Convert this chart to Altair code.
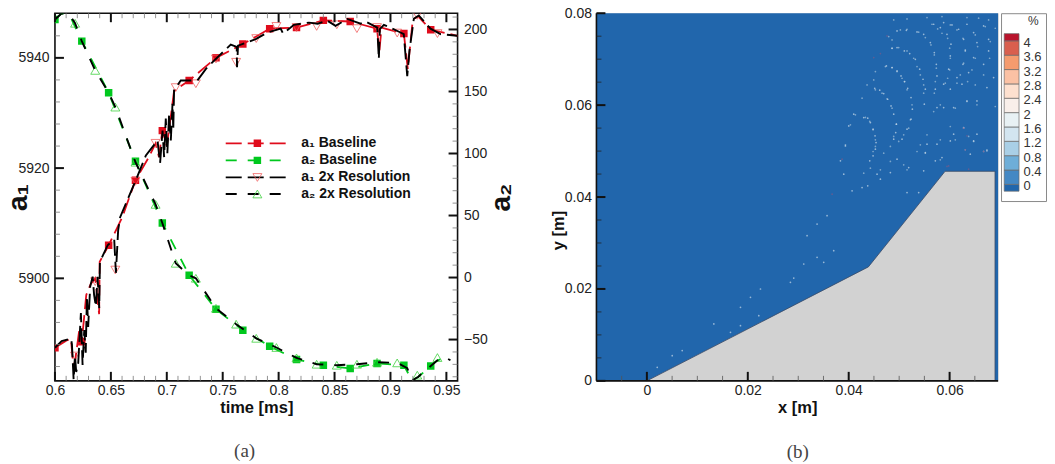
import altair as alt
import pandas as pd

FONT = "Liberation Sans"
RED, GREEN = "#e00c1c", "#00c81e"

# --- panel (a): readings in data units
t_a1_base = [.6,.61,.6143,.6165,.618,.622,.624,.628,.632,.636,.6395,.64,.648,.66,.672,.684,.69,.693,.696,.7,.704,.7065,.72,.744,.768,.792,.816,.84,.864,.888,.89,.892,.912,.9155,.92,.925,.936,.96]
v_a1_base = [5887.4,5888.7,5889,5884,5885,5891,5888.5,5897,5899,5900,5893.5,5903,5906,5911,5917.8,5922,5924.5,5922,5926.8,5924,5930,5934,5935.9,5940,5942.5,5945.3,5945.5,5946.8,5946.6,5945.3,5941,5945.5,5944.4,5938,5947,5947.5,5945.1,5944]
t_a1_fine = [.6,.606,.6143,.6152,.6167,.6179,.619,.6208,.6232,.6247,.6262,.6275,.6286,.6297,.6315,.6337,.635,.6366,.6381,.6396,.6402,.6471,.653,.6545,.6565,.6583,.6723,.6813,.6917,.694,.6962,.6976,.6991,.7005,.7021,.7036,.7051,.7058,.7065,.7125,.7274,.735,.7423,.7572,.7625,.7628,.7637,.7795,.79,.8018,.804,.8137,.8271,.835,.8435,.8509,.8614,.8733,.8777,.8882,.8896,.8905,.8941,.909,.9119,.915,.917,.9209,.9253,.9358,.9447,.9596]
v_a1_fine = [5887.4,5888.6,5889.1,5888,5881.6,5886,5883,5884.6,5893.7,5884.3,5890.6,5886.5,5896.7,5891.2,5898.5,5900.3,5897,5894.9,5900.3,5894.6,5903,5906,5907,5901,5908.7,5911.1,5917.8,5922.3,5925,5920.9,5926.8,5922,5929,5922.7,5929.9,5925,5931.7,5927,5934.1,5935.9,5935.9,5938,5939.5,5942.4,5942,5938.3,5942.2,5943.4,5944.6,5945.3,5944.4,5946,5946.4,5946.2,5946.75,5945.8,5947.06,5946.2,5946.6,5945.5,5939.8,5945.2,5946,5944.6,5944.3,5936.7,5941.3,5947.1,5947.7,5945.3,5944.3,5944]

t_a2_base = [.6,.606,.613,.624,.648,.672,.696,.72,.744,.768,.792,.816,.84,.864,.888,.912,.9193,.925,.936,.9417,.949,.9536]
v_a2_base = [208,213,212,190.6,149,93.7,44,1.8,-25.6,-42.5,-55.4,-66,-70.7,-73.3,-69.3,-70.7,-83,-80,-71.3,-67,-64.3,-66.7]
t_a2_fine = [.6,.606,.613,.618,.624,.636,.648,.654,.672,.69,.696,.708,.72,.726,.744,.762,.78,.798,.816,.834,.852,.87,.888,.906,.915,.9193,.925,.9295,.936,.9417,.949,.9536]
v_a2_fine = [208,213,212,205,190.6,167,149,137.4,93,59,44,11.5,1.8,-0.6,-24.8,-37.6,-49,-56.4,-64.8,-69.9,-70.7,-69.9,-68.3,-68.8,-73,-83,-80,-76,-71.3,-67,-64.3,-66.7]

t_squares = [.6,.624,.648,.672,.696,.72,.744,.768,.792,.816,.84,.864,.888,.912,.936]
a1_squares = [5887.4,5888.5,5906,5917.8,5926.8,5935.9,5940,5942.5,5945.3,5945.5,5946.8,5946.6,5945.3,5944.4,5945.1]
a2_squares = [208,190.6,149,93.7,44,1.8,-25.6,-42.5,-55.4,-66,-70.7,-73.3,-69.3,-70.7,-71.3]
t_tris = [.618,.636,.654,.672,.69,.708,.726,.744,.762,.78,.798,.816,.834,.852,.87,.888,.906,.924,.942]
a1_tris = [5885.9,5899.4,5901.5,5917.6,5924.5,5934.6,5935.3,5939.8,5939.2,5943.5,5945.7,5945.5,5945.7,5946,5945.3,5945.5,5944.5,5947.7,5944.4]
a2_tris = [205,167,137.4,93,59,11.5,-0.6,-24.8,-37.6,-49,-56.4,-64.8,-69.9,-70.7,-69.9,-68.3,-68.8,-78.7,-64.5]

x_a = [.6,.96]
y_a1 = [5881.4,5948.1]
y_a2 = [-83.3,213.1]
x_major_a = [.6,.65,.7,.75,.8,.85,.9,.95]
x_minor_a = [.61,.62,.63,.64,.66,.67,.68,.69,.71,.72,.73,.74,.76,.77,.78,.79,.81,.82,.83,.84,.86,.87,.88,.89,.91,.92,.93,.94]
a1_major = [5900,5920,5940]
a1_minor = [5884,5888,5892,5896,5904,5908,5912,5916,5924,5928,5932,5936,5944]
a2_major = [-50,0,50,100,150,200]
a2_minor = [-80,-70,-60,-40,-30,-20,-10,10,20,30,40,60,70,80,90,110,120,130,140,160,170,180,190,210]

legend_labels = ["a₁ Baseline","a₂ Baseline","a₁ 2x Resolution","a₂ 2x Resolution"]
legend_y = [5924.5,5921.4,5918.3,5915.3]
legend_x = [.7527,.8072]
legend_mark_x = .781
legend_text_x = .8203

# --- panel (b)
x_b = [-0.01,0.0696]
y_b = [0,0.08]
body_x = [0,.0439,.0591,.069,.069]
body_y = [0,.0248,.0456,.0456,0]
x_major_b = [0,.02,.04,.06]
x_minor_b = [-.005,.005,.01,.015,.025,.03,.035,.045,.05,.055,.065]
y_major_b = [0,.02,.04,.06,.08]
y_minor_b = [.005,.01,.015,.025,.03,.035,.045,.05,.055,.065,.07,.075]
speck_x = [.04298,.04377,.04430,.04483,.04522,.04542,.04529,.04483,.04417,
 .04516,.04615,.04694,.04773,.04839,.04892,.04945,.04932,.04892,
 .04747,.04859,.04958,.05037,.05110,.05169,.05235,.05262,.05235,.05156,.05057,
 .04859,.04958,.05103,.05209,.05321,.05407,.05473,.05519,.05499,
 .04958,.05143,.05354,.05486,.05618,.05697,.05737,.05750,.05717,
 .05684,.05816,.05948,.06027,.06014,.05981,.05882,
 .05882,.06047,.06179,.06278,.06311,.06265,.06146,.06014,
 .06344,.06476,.06542,.06476,.06377,.06245,
 .06674,.06773,.06773,.06674,.06872,
 .04100,.04001,.03935,.03902,.03836,.04067,.04265,.04377,.04562,.04826,.04628,.04958,.05189,.05156,.05387,.05486,.05519,.05717,.05849,.05552,.05882,.05750,.06080,.06344,.06542,.06740,.06542,.06278,.06080,.06476,.06410,.06740,.06014,.05750,
 .02845,.02911,.03109,.03373,.03505,.03703,.03571,.03373,.03175,.02251,.02053,.01855,.02218,.01855,.01327,.01657,.00700,.00502,.00205]
speck_y = [.05729,.05715,.05621,.05476,.05331,.05186,.05041,.04896,.04787,
 .06367,.06324,.06252,.06128,.05983,.05802,.05585,.05403,.05258,
 .06853,.06817,.06745,.06636,.06512,.06367,.06165,.05911,.05693,.05476,.05258,
 .07237,.07252,.07180,.07122,.06998,.06781,.06563,.06346,.06020,
 .07614,.07629,.07593,.07542,.07361,.07143,.06889,.06636,.06346,
 .07760,.07687,.07542,.07325,.07071,.06781,.06455,
 .07796,.07745,.07651,.07433,.07180,.06889,.06600,.06346,
 .07760,.07578,.07361,.07035,.06708,.06455,
 .07723,.07433,.07180,.06889,.06600,
 .05802,.05548,.05113,.04497,.04787,.04135,.04207,.04243,.04497,.04533,.04388,.04823,.04642,.04098,.04098,.04570,.04968,.04787,.04860,.05150,.05947,.05947,.05947,.06092,.06092,.06382,.05367,.05512,.05367,.05222,.04932,.05005,.05222,.05150,
 .02144,.02238,.02543,.02688,.02579,.02833,.03594,.03413,.03159,.01999,.01818,.01600,.01419,.01201,.01238,.01056,.00658,.00549,.00295]
faint_x = [.05651,.05763,.05849,.05961,.06001,.06014,.06001,.05961,.05915,.06014,.06146,.06265,.06311,.06278,.06212,.06146,.06344,.06509,.06555,.06509,.06443,.06357,
 .05024,.05156,.05387,.05519,.05631,.05697,.05737,.05717,.05697,.04859,.04991,.05156,.05288,.05354,.05420,.05486,.05486,.04727,.04859,.04958,.05057,.05103,.05156,
 .06707,.06806,.06793,.06674,.06509,.06575,.06773,.06905,.04529,.04496,.04364,.04529,.04661,.04892,.05156,.05552,.05849,.04793,.04859,
 .04331,.04417,.04483,.04529,.04529,.04483,.04760,.04859,.04945,.04892,.04826,.05090,.04991,.05189,.05255,.05222,.05354,.05519,.05420,.05684,.05816,.06113,.06344,.06542,.06905,.05816,.06014,.06278,.06377,.06476,.06113,.04298,.04430,.04628,.04826,.05090,.05156,.04694,.04034,.04133,.03935,.04265,.05816,.05552,.06674,.06740,.06311]
faint_y = [.07760,.07659,.07564,.07455,.07238,.07020,.06767,.06585,.06477,.07746,.07637,.07455,.07202,.06912,.06658,.06477,.07905,.07528,.07274,.07020,.06767,.06513,
 .07637,.07651,.07586,.07470,.07310,.07093,.06803,.06513,.06259,.07238,.07253,.07180,.07020,.06839,.06658,.06440,.06259,.06839,.06818,.06731,.06585,.06513,.06332,
 .07709,.07383,.07020,.06658,.06440,.07891,.07854,.07673,.06731,.06549,.06440,.06332,.06259,.07854,.07876,.07905,.07927,.07492,.07419,
 .05731,.05644,.05463,.05245,.05100,.04991,.06137,.05934,.05586,.05318,.05100,.05354,.05209,.05499,.06007,.05680,.04991,.04955,.05136,.05861,.06007,.05934,.06079,.06007,.05970,.05245,.05535,.05499,.05318,.05209,.05245,.04520,.04629,.04593,.04774,.04702,.04593,.04955,.05572,.05789,.05137,.06152,.04810,.05354,.04992,.05028,.05028]
dark_x = [.04628,.04496,.04760,.03869,.03671,.06377,.05981,.06344,.06278,.06311,.06674,.05948]
dark_y = [.07121,.07034,.07506,.04823,.04062,.04606,.04678,.05331,.05499,.05028,.04992,.04665]

# --- colour key
levels = [0,.4,.8,1.2,1.6,2,2.4,2.8,3.2,3.6,4]
level_low = [-.19,0,.4,.8,1.2,1.6,2,2.4,2.8,3.2,3.6,4]
level_top = [0,.4,.8,1.2,1.6,2,2.4,2.8,3.2,3.6,4,4.2]
level_colors = ["#2166ac","#4488c4","#6eaed8","#a9cfe6","#d3e5f0","#e8f1f4","#f9efea","#fde0cf","#fbc1a4","#f59b6e","#d95f4e","#b9142c"]
level_text = ["0","0.4","0.8","1.2","1.6","2","2.4","2.8","3.2","3.6","4"]


def sc(dom):
    return alt.Scale(domain=dom, nice=False, zero=False)

def X(dom, field="x"):
    return alt.X(field, type="quantitative", scale=sc(dom), axis=None, title=None)

def Y(dom, field="y"):
    return alt.Y(field, type="quantitative", scale=sc(dom), axis=None, title=None)

def line(ts, vs, ydom, color, dash, w):
    df = pd.DataFrame({"x": ts, "y": vs})
    return alt.Chart(df).mark_line(color=color, strokeDash=dash, strokeWidth=w, clip=True, interpolate="linear").encode(
        x=alt.X("x:Q", sort=None, scale=sc(x_a), axis=None),
        y=Y(ydom))

def pts(ts, vs, ydom, xdom, shape, size, fill, stroke, w=0.8):
    df = pd.DataFrame({"x": ts, "y": vs})
    kw = dict(shape=shape, size=size, clip=True)
    if fill: kw.update(filled=True, fill=fill, stroke=fill, strokeWidth=0, opacity=1)
    else: kw.update(filled=False, fill="transparent", stroke=stroke, strokeWidth=w, opacity=1)
    return alt.Chart(df).mark_point(**kw).encode(x=X(xdom), y=Y(ydom))

def xticks(vals, xdom, H, size, w, color, both=True):
    df = pd.DataFrame({"x": vals})
    bot = alt.Chart(df).mark_rule(color=color, strokeWidth=w).encode(x=X(xdom), y=alt.value(H), y2=alt.value(H-size))
    if not both: return [bot]
    top = alt.Chart(df).mark_rule(color=color, strokeWidth=w).encode(x=X(xdom), y=alt.value(0), y2=alt.value(size))
    return [bot, top]

def yticks(vals, ydom, x0, x1, w, color):
    df = pd.DataFrame({"y": vals})
    return alt.Chart(df).mark_rule(color=color, strokeWidth=w).encode(y=Y(ydom), x=alt.value(x0), x2=alt.value(x1))

WA, HA = 403, 368
lab = dict(labelFont=FONT, labelFontSize=14, labelColor="#222", ticks=False, domain=False, grid=False,
           titleFont=FONT, titleFontWeight="bold", titleColor="#111")

ax_time = alt.Axis(values=x_major_a, format="~g", title="time [ms]", titleFontSize=16.5, titleY=32, titleBaseline="alphabetic", labelPadding=3, labelFlush=False, **lab)
ax_a1 = alt.Axis(values=a1_major, format="d", title="a₁", titleFontSize=28, titleX=-28, titleY=184, titleAlign="center", titleBaseline="alphabetic", labelPadding=6, orient="left", **lab)
ax_a2 = alt.Axis(values=a2_major, format="d", title="a₂", titleFontSize=28, titleX=52, titleY=184, titleAlign="center", titleBaseline="alphabetic", labelPadding=6, orient="right", titleAngle=270, **lab)

axis_a1 = alt.Chart(pd.DataFrame({"x": x_a, "y": y_a1})).mark_point(opacity=0, size=1).encode(
    x=alt.X("x:Q", scale=sc(x_a), axis=ax_time, title="time [ms]"),
    y=alt.Y("y:Q", scale=sc(y_a1), axis=ax_a1, title="a₁"))
axis_a2 = alt.Chart(pd.DataFrame({"x": x_a, "y": y_a2})).mark_point(opacity=0, size=1).encode(
    x=X(x_a), y=alt.Y("y:Q", scale=sc(y_a2), axis=ax_a2, title="a₂"))

styles = [(RED,[16,6],1.8),(GREEN,[11,11],1.8),("#000",[16,6],1.8),("#000",[11,11],1.8)]
leg_layers = []
for lbl, yy, (c, dash, w) in zip(legend_labels, legend_y, styles):
    leg_layers.append(alt.Chart(pd.DataFrame({"x": [legend_x[0]], "x2": [legend_x[1]], "y": [yy]})).mark_rule(color=c, strokeDash=dash, strokeWidth=w).encode(
        x=X(x_a), x2="x2:Q", y=Y(y_a1)))
    leg_layers.append(alt.Chart(pd.DataFrame({"x": [legend_text_x], "y": [yy], "t": [lbl]})).mark_text(
        font=FONT, fontSize=14, fontWeight="bold", align="left", baseline="middle", color="#111").encode(
        x=X(x_a), y=Y(y_a1), text="t:N"))
leg_layers.append(pts([legend_mark_x],[legend_y[0]],y_a1,x_a,"square",56,RED,None))
leg_layers.append(pts([legend_mark_x],[legend_y[1]],y_a1,x_a,"square",56,GREEN,None))
leg_layers.append(pts([legend_mark_x],[legend_y[2]],y_a1,x_a,"triangle-down",80,None,"#f06060"))
leg_layers.append(pts([legend_mark_x],[legend_y[3]],y_a1,x_a,"triangle-up",80,None,"#40d040"))

caption_a = alt.Chart(pd.DataFrame({"x":[.7696],"y":[5868.7],"t":["(a)"]})).mark_text(font="Liberation Serif", fontSize=19, color="#444").encode(x=X(x_a), y=Y(y_a1), text="t:N")

panel_a = alt.layer(
    axis_a1,
    axis_a2,
    line(t_a1_base, v_a1_base, y_a1, RED, [16,6], 1.8),
    pts(t_squares, a1_squares, y_a1, x_a, "square", 56, RED, None),
    pts(t_tris, a1_tris, y_a1, x_a, "triangle-down", 80, None, "#f06060"),
    line(t_a2_base, v_a2_base, y_a2, GREEN, [11,11], 1.8),
    pts(t_squares, a2_squares, y_a2, x_a, "square", 56, GREEN, None),
    pts(t_tris, a2_tris, y_a2, x_a, "triangle-up", 80, None, "#40d040"),
    line(t_a1_fine, v_a1_fine, y_a1, "#000", [16,6], 1.9),
    line(t_a2_fine, v_a2_fine, y_a2, "#000", [11,11], 1.9),
    yticks(a1_major, y_a1, 0, 9, 2, "#111"),
    yticks(a1_minor, y_a1, 0, 5, 0.8, "#777"),
    yticks(a2_major, y_a2, WA-9, WA, 2, "#111"),
    yticks(a2_minor, y_a2, WA-5, WA, 0.8, "#777"),
    *xticks(x_major_a, x_a, HA, 9, 2, "#111"),
    *xticks(x_minor_a, x_a, HA, 5, 0.8, "#777"),
    *leg_layers, caption_a,
).resolve_scale(y="independent").resolve_axis(x="independent", y="independent").properties(
    width=WA, height=HA, view=alt.ViewConfig(stroke="#111", strokeWidth=1.6))

# panel b
WB, HB = 402, 368
ax_x = alt.Axis(values=x_major_b, format="~g", title="x [m]", titleFontSize=16.5, titleY=32, titleBaseline="alphabetic", labelPadding=3, **lab)
ax_y = alt.Axis(values=y_major_b, format="~g", title="y [m]", titleFontSize=16.5, titleY=217, titleX=-33, titleAlign="center", titleBaseline="alphabetic", labelPadding=5, **lab)
bg = alt.Chart(pd.DataFrame({"x":[x_b[0]],"x2":[x_b[1]],"y":[y_b[0]],"y2":[y_b[1]]})).mark_rect(color="#2166ac").encode(
    x=alt.X("x:Q", scale=sc(x_b), axis=ax_x, title="x [m]"),
    x2="x2:Q",
    y=alt.Y("y:Q", scale=sc(y_b), axis=ax_y, title="y [m]"),
    y2="y2:Q")
body_df = pd.DataFrame({"x": body_x, "y": body_y})
body = alt.Chart(body_df).mark_area(color="#d2d2d2", opacity=1, interpolate="linear").encode(
    x=alt.X("x:Q", sort=None, scale=sc(x_b), axis=None),
    y=alt.Y("y:Q", scale=sc(y_b), axis=None),
    y2=alt.datum(0))
body_edge = alt.Chart(body_df).mark_line(color="#3a4a66", strokeWidth=0.8, interpolate="linear").encode(
    x=alt.X("x:Q", sort=None, scale=sc(x_b), axis=None),
    y=Y(y_b))
faint = alt.Chart(pd.DataFrame({"x": faint_x, "y": faint_y})).mark_point(filled=True, size=3, color="#c5d9e6", opacity=0.55, strokeWidth=0).encode(x=X(x_b), y=Y(y_b))
specks = alt.Chart(pd.DataFrame({"x": speck_x, "y": speck_y})).mark_point(filled=True, size=3, color="#d5e4ee", opacity=0.65, strokeWidth=0).encode(x=X(x_b), y=Y(y_b))
dark = alt.Chart(pd.DataFrame({"x": dark_x, "y": dark_y})).mark_point(filled=True, size=3, color="#7a5a8a", opacity=0.7, strokeWidth=0).encode(x=X(x_b), y=Y(y_b))
frame_l = alt.Chart(pd.DataFrame({"x":[x_b[0]],"y":[y_b[0]],"y2":[y_b[1]]})).mark_rule(color="#111", strokeWidth=1.6).encode(x=X(x_b), y=Y(y_b), y2="y2:Q")
frame_b = alt.Chart(pd.DataFrame({"x":[x_b[0]],"x2":[x_b[1]],"y":[y_b[0]]})).mark_rule(color="#111", strokeWidth=1.6).encode(x=X(x_b), x2="x2:Q", y=Y(y_b))
caption_b = alt.Chart(pd.DataFrame({"x":[.0299],"y":[-.0154],"t":["(b)"]})).mark_text(font="Liberation Serif", fontSize=19, color="#444").encode(x=X(x_b), y=Y(y_b), text="t:N")
panel_b = alt.layer(
    bg, body, body_edge, faint, specks, dark, frame_l, frame_b,
    *xticks(x_major_b, x_b, HB, 9, 2, "#111", both=False),
    *xticks(x_minor_b, x_b, HB, 5, 0.8, "#555", both=False),
    yticks(y_major_b, y_b, 0, 9, 2, "#111"),
    yticks(y_minor_b, y_b, 0, 5, 0.8, "#222"),
    caption_b,
).resolve_axis(x="independent", y="independent").properties(width=WB, height=HB)

# colour key
y_key = [-.464,4.77]
x_key = [0,1]
cells = pd.DataFrame({"y": level_low, "y2": level_top, "c": level_colors, "x": [.07]*12, "x2": [.4]*12})
key_cells = alt.Chart(cells).mark_rect(stroke="#6a6a6a", strokeWidth=0.7).encode(
    x=X(x_key), x2="x2:Q", y=Y(y_key), y2="y2:Q", color=alt.Color("c:N", scale=None))
key_text = alt.Chart(pd.DataFrame({"x":[.5]*11, "y": levels, "t": level_text})).mark_text(
    font=FONT, fontSize=13, align="left", baseline="middle", dy=2, color="#333").encode(x=X(x_key), y=Y(y_key), text="t:N")
key_pct = alt.Chart(pd.DataFrame({"x":[.72],"y":[4.55],"t":["%"]})).mark_text(font=FONT, fontSize=12, color="#333").encode(x=X(x_key), y=Y(y_key), text="t:N")
panel_key = alt.layer(key_cells, key_text, key_pct).properties(width=45, height=188, view=alt.ViewConfig(stroke="#8a8a8a", strokeWidth=1))

spacer = alt.Chart(pd.DataFrame({"x":[0]})).mark_point(opacity=0, size=1).encode(x=alt.X("x:Q", axis=None)).properties(width=133, height=10, view=alt.ViewConfig(stroke=None))

chart = alt.hconcat(panel_a, spacer, panel_b, panel_key, spacing=3, bounds="flush").properties(
    padding={"left":-4,"top":-3,"right":0,"bottom":0}, background="white",
    autosize=alt.AutoSizeParams(type="pad", contains="content"))

chart.save("out.html", embed_options={"renderer": "svg", "actions": False})
